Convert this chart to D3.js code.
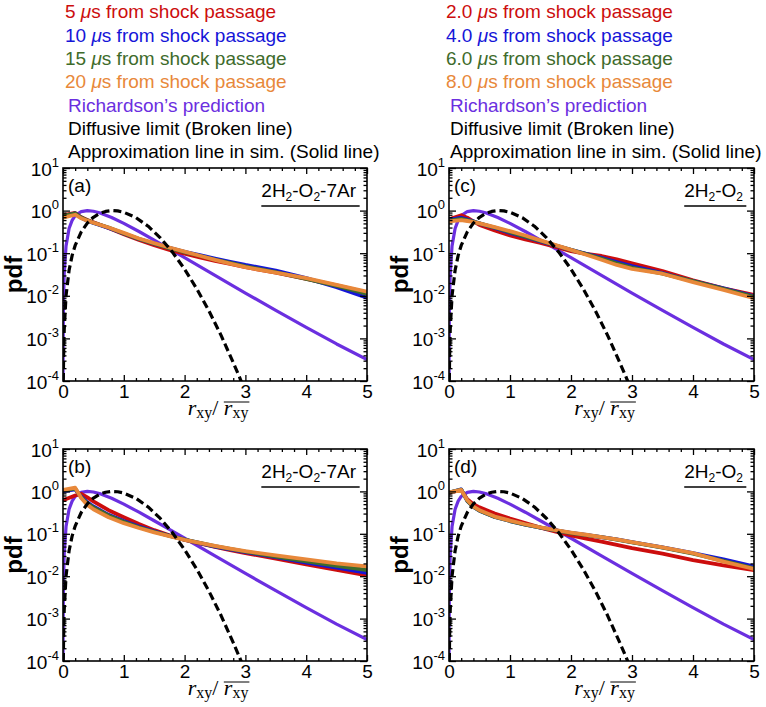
<!DOCTYPE html>
<html>
<head>
<meta charset="utf-8">
<script src="https://cdn.jsdelivr.net/npm/d3@7/dist/d3.min.js"></script>
<style>
  body { margin: 0; background: #fff; }
</style>
</head>
<body>
<svg id="fig" width="766" height="707"></svg>
<script>
// ---------------- data ----------------
// normalised separation r_xy / mean(r_xy) sampled for the simulation curves
const xGrid = [0, 0.2, 0.3, 0.4, 0.5, 0.75, 1, 1.25, 1.5, 1.75, 2, 2.25, 2.5, 2.75, 3, 3.5, 4, 4.5, 5];

// (a) 2H2-O2-7Ar : 5, 10, 15, 20 us
const aRed    = [0.78, 0.88, 0.70, 0.60, 0.53, 0.39, 0.28, 0.205, 0.155, 0.12, 0.097, 0.080, 0.066, 0.056, 0.047, 0.035, 0.025, 0.0175, 0.012];
const aBlue   = [0.72, 0.86, 0.68, 0.58, 0.51, 0.39, 0.29, 0.215, 0.168, 0.133, 0.108, 0.090, 0.075, 0.063, 0.053, 0.039, 0.026, 0.016, 0.009];
const aGreen  = [0.75, 0.86, 0.69, 0.59, 0.52, 0.40, 0.29, 0.215, 0.167, 0.132, 0.106, 0.087, 0.071, 0.059, 0.049, 0.036, 0.025, 0.017, 0.011];
const aOrange = [0.68, 0.80, 0.66, 0.58, 0.52, 0.40, 0.30, 0.222, 0.172, 0.136, 0.109, 0.087, 0.070, 0.057, 0.047, 0.035, 0.026, 0.018, 0.0125];

// (b) 2H2-O2-7Ar, second set
const bRed    = [0.62, 0.80, 0.88, 0.72, 0.58, 0.36, 0.245, 0.17, 0.122, 0.092, 0.072, 0.059, 0.049, 0.041, 0.035, 0.026, 0.019, 0.014, 0.0105];
const bBlue   = [1.00, 1.12, 0.75, 0.55, 0.44, 0.28, 0.20, 0.148, 0.114, 0.090, 0.073, 0.060, 0.050, 0.043, 0.037, 0.028, 0.021, 0.016, 0.012];
const bGreen  = [1.04, 1.16, 0.72, 0.52, 0.42, 0.27, 0.192, 0.143, 0.112, 0.089, 0.073, 0.061, 0.051, 0.044, 0.038, 0.029, 0.0225, 0.0175, 0.014];
const bOrange = [1.08, 1.22, 0.70, 0.48, 0.38, 0.245, 0.178, 0.137, 0.108, 0.088, 0.072, 0.061, 0.052, 0.045, 0.039, 0.031, 0.025, 0.020, 0.017];

// (c) 2H2-O2 : 2, 4, 6, 8 us
const cRed    = [0.63, 0.78, 0.68, 0.56, 0.46, 0.34, 0.26, 0.21, 0.175, 0.14, 0.112, 0.097, 0.086, 0.072, 0.058, 0.038, 0.023, 0.015, 0.0105];
const cBlue   = [0.60, 0.68, 0.62, 0.56, 0.50, 0.39, 0.30, 0.24, 0.19, 0.15, 0.12, 0.097, 0.078, 0.062, 0.050, 0.034, 0.022, 0.015, 0.0098];
const cGreen  = [0.58, 0.64, 0.60, 0.55, 0.50, 0.40, 0.31, 0.245, 0.195, 0.152, 0.12, 0.095, 0.075, 0.058, 0.046, 0.033, 0.022, 0.0145, 0.0095];
const cOrange = [0.56, 0.60, 0.57, 0.54, 0.50, 0.41, 0.33, 0.26, 0.20, 0.155, 0.12, 0.092, 0.070, 0.053, 0.043, 0.033, 0.021, 0.0138, 0.0088];

// (d) 2H2-O2, second set
const dRed    = [0.92, 1.08, 0.65, 0.50, 0.42, 0.30, 0.23, 0.18, 0.14, 0.112, 0.092, 0.077, 0.065, 0.055, 0.046, 0.034, 0.024, 0.018, 0.014];
const dBlue   = [0.93, 1.12, 0.60, 0.43, 0.35, 0.25, 0.20, 0.165, 0.14, 0.12, 0.105, 0.094, 0.084, 0.074, 0.064, 0.048, 0.035, 0.025, 0.017];
const dGreen  = [0.94, 1.10, 0.60, 0.43, 0.35, 0.25, 0.20, 0.165, 0.14, 0.12, 0.104, 0.093, 0.083, 0.073, 0.063, 0.047, 0.034, 0.023, 0.0155];
const dOrange = [0.95, 1.08, 0.62, 0.44, 0.36, 0.255, 0.205, 0.168, 0.142, 0.122, 0.107, 0.095, 0.084, 0.074, 0.064, 0.048, 0.035, 0.022, 0.0148];

// Richardson's prediction (same in every panel)
const richX = [0.001, 0.002, 0.005, 0.01, 0.02, 0.05, 0.1, 0.15, 0.2, 0.3, 0.4, 0.5, 0.6, 0.8, 1.0, 1.25, 1.5, 1.75, 2.0, 2.5, 3.0, 3.5, 4.0, 4.5, 5.0];
const richY = [1.2e-4, 4.6e-4, 2.7e-3, 9.7e-3, 0.033, 0.148, 0.38, 0.59, 0.76, 0.95, 1.0, 0.967, 0.888, 0.688, 0.50, 0.323, 0.203, 0.1265, 0.0785, 0.030, 0.0116, 0.00457, 0.00182, 0.00074, 0.00032];

// diffusive limit (same in every panel)
const diffX = [0.005, 0.01, 0.02, 0.05, 0.1, 0.15, 0.2, 0.3, 0.4, 0.5, 0.6, 0.7, 0.8, 0.9, 1.0, 1.2, 1.4, 1.6, 1.8, 2.0, 2.2, 2.4, 2.6, 2.8, 2.9, 3.0];
const diffY = [1.0e-4, 4.0e-4, 1.6e-3, 0.0101, 0.0398, 0.088, 0.152, 0.318, 0.51, 0.697, 0.852, 0.956, 0.999, 0.982, 0.914, 0.684, 0.430, 0.230, 0.106, 0.0422, 0.0146, 0.00444, 0.00118, 2.7e-4, 1.26e-4, 5.6e-5];

// legends and labels
const timesLeft  = ["5", "10", "15", "20"];
const timesRight = ["2.0", "4.0", "6.0", "8.0"];
const extraLegend = ["Richardson\u2019s prediction", "Diffusive limit (Broken line)", "Approximation line in sim. (Solid line)"];
const panelNames = ["(a)", "(b)", "(c)", "(d)"];
const panelMixtures = ["2H_2-O_2-7Ar", "2H_2-O_2-7Ar", "2H_2-O_2", "2H_2-O_2"];
const xTicks = [0, 1, 2, 3, 4, 5];
const yTicks = [1e-4, 1e-3, 1e-2, 1e-1, 1, 10];
const yExponents = ["-4", "-3", "-2", "-1", "0", "1"];

// ---------------- styling / layout ----------------
const SANS = '"Liberation Sans", Arial, Helvetica, sans-serif';
const SERIF = '"Liberation Serif", "Times New Roman", serif';
const seriesColors = ["#cc0d0d", "#1515d8", "#3e6b2b", "#e8883a"];
const richColor = "#6b2fe0";

const frames = [
  { x0: 63,  x1: 367, y0: 168, y1: 381 },  // (a)
  { x0: 63,  x1: 367, y0: 449, y1: 661 },  // (b)
  { x0: 449, x1: 754, y0: 168, y1: 381 },  // (c)
  { x0: 449, x1: 754, y0: 449, y1: 661 }   // (d)
];
const panelSeries = [
  [aRed, aBlue, aGreen, aOrange],
  [bRed, bBlue, bGreen, bOrange],
  [cRed, cBlue, cGreen, cOrange],
  [dRed, dBlue, dGreen, dOrange]
];

const svg = d3.select("#fig");
svg.append("rect").attr("width", 766).attr("height", 707).attr("fill", "#fff");

// ---------------- legends ----------------
function drawLegend(times, xTimes, xExtra) {
  const g = svg.append("g").attr("font-family", SANS).attr("font-size", 19);
  times.forEach((t, i) => {
    const txt = g.append("text").attr("x", xTimes).attr("y", 18.3 + 23.33 * i).attr("fill", seriesColors[i]);
    txt.append("tspan").text(t + " ");
    txt.append("tspan").attr("font-style", "italic").text("\u03bc");
    txt.append("tspan").text("s from shock passage");
  });
  extraLegend.forEach((t, j) => {
    g.append("text").attr("x", xExtra).attr("y", 18.3 + 23.33 * (4 + j))
      .attr("fill", j === 0 ? richColor : "#000").text(t);
  });
}
drawLegend(timesLeft, 65, 68);
drawLegend(timesRight, 446, 450);

// ---------------- panels ----------------
frames.forEach((f, p) => {
  const g = svg.append("g");
  const x = d3.scaleLinear().domain([0, 5]).range([f.x0, f.x1]);
  const y = d3.scaleLog().domain([1e-4, 10]).range([f.y1, f.y0]);

  const clipId = "clip" + p;
  g.append("clipPath").attr("id", clipId).append("rect")
    .attr("x", f.x0).attr("y", f.y0).attr("width", f.x1 - f.x0).attr("height", f.y1 - f.y0);

  const line = d3.line().x(d => x(d[0])).y(d => y(d[1]));
  const curves = g.append("g").attr("clip-path", `url(#${clipId})`).attr("fill", "none")
    .attr("stroke-linejoin", "round").attr("stroke-linecap", "round");

  curves.append("path").attr("d", line(d3.zip(richX, richY)))
    .attr("stroke", richColor).attr("stroke-width", 3.2);

  panelSeries[p].forEach((vals, i) => {
    curves.append("path").attr("d", line(d3.zip(xGrid, vals)))
      .attr("stroke", seriesColors[i]).attr("stroke-width", 3.8);
  });

  curves.append("path").attr("d", line(d3.zip(diffX, diffY)))
    .attr("stroke", "#000").attr("stroke-width", 3.2).attr("stroke-dasharray", "8,4")
    .attr("stroke-linecap", "butt");

  // ticks (inward, on all four sides)
  const minorX = d3.range(0, 5.001, 0.2).filter(v => Math.abs(v - Math.round(v)) > 1e-6);
  const minorY = [];
  for (let e = -4; e < 1; e++) for (let m = 2; m <= 9; m++) minorY.push(m * Math.pow(10, e));

  const tickStyle = sel => {
    sel.select(".domain").remove();
    sel.selectAll("line").attr("stroke", "#000").attr("stroke-width", 1.3);
  };
  // bottom with labels
  g.append("g").attr("transform", `translate(0,${f.y1})`)
    .call(d3.axisBottom(x).tickValues(xTicks).tickSize(-6).tickPadding(4).tickFormat(d3.format("d")))
    .call(tickStyle)
    .call(s => s.selectAll("text").attr("font-family", SANS).attr("font-size", 19).attr("fill", "#000"));
  g.append("g").attr("transform", `translate(0,${f.y1})`)
    .call(d3.axisBottom(x).tickValues(minorX).tickSize(-3).tickFormat(""))
    .call(tickStyle);
  // top
  g.append("g").attr("transform", `translate(0,${f.y0})`)
    .call(d3.axisTop(x).tickValues(xTicks).tickSize(-6).tickFormat(""))
    .call(tickStyle);
  g.append("g").attr("transform", `translate(0,${f.y0})`)
    .call(d3.axisTop(x).tickValues(minorX).tickSize(-3).tickFormat(""))
    .call(tickStyle);
  // left with labels
  g.append("g").attr("transform", `translate(${f.x0},0)`)
    .call(d3.axisLeft(y).tickValues(yTicks).tickSize(-7).tickPadding(4).tickFormat(""))
    .call(tickStyle)
    .call(s => s.selectAll(".tick").each(function (d) {
      const t = d3.select(this).append("text")
        .attr("x", -4).attr("y", 7).attr("text-anchor", "end")
        .attr("font-family", SANS).attr("font-size", 19).attr("fill", "#000");
      t.append("tspan").text("10");
      t.append("tspan").attr("font-size", 13).attr("dy", -9).text(yExponents[yTicks.indexOf(d)]);
    }));
  g.append("g").attr("transform", `translate(${f.x0},0)`)
    .call(d3.axisLeft(y).tickValues(minorY).tickSize(-3.5).tickFormat(""))
    .call(tickStyle);
  // right
  g.append("g").attr("transform", `translate(${f.x1},0)`)
    .call(d3.axisRight(y).tickValues(yTicks).tickSize(-7).tickFormat(""))
    .call(tickStyle);
  g.append("g").attr("transform", `translate(${f.x1},0)`)
    .call(d3.axisRight(y).tickValues(minorY).tickSize(-3.5).tickFormat(""))
    .call(tickStyle);

  // frame
  g.append("rect").attr("x", f.x0).attr("y", f.y0).attr("width", f.x1 - f.x0).attr("height", f.y1 - f.y0)
    .attr("fill", "none").attr("stroke", "#000").attr("stroke-width", 1.6);

  // panel letter
  g.append("text").attr("x", f.x0 + 5).attr("y", f.y0 + 24)
    .attr("font-family", SANS).attr("font-size", 19).text(panelNames[p]);

  // mixture label, underlined
  const mt = g.append("text").attr("y", f.y0 + 29).attr("text-anchor", "end").attr("x", f.x1 - 11)
    .attr("font-family", SANS).attr("font-size", 19);
  panelMixtures[p].split(/(_\d)/).filter(s => s.length).forEach(s => {
    if (s[0] === "_") {
      mt.append("tspan").attr("font-size", 12).attr("dy", 4).text(s.slice(1));
    } else {
      const prevSub = mt.selectAll("tspan").size() > 0;
      mt.append("tspan").attr("dy", prevSub ? -4 : 0).text(s);
    }
  });
  const bb = mt.node().getBBox();
  g.append("line").attr("x1", bb.x).attr("x2", bb.x + bb.width + 3)
    .attr("y1", f.y0 + 38).attr("y2", f.y0 + 38).attr("stroke", "#000").attr("stroke-width", 1.5);

  // y axis title
  g.append("text")
    .attr("transform", `translate(${f.x0 - 41},${(f.y0 + f.y1) / 2}) rotate(-90)`)
    .attr("text-anchor", "middle").attr("font-family", SANS).attr("font-weight", "bold")
    .attr("font-size", 24).text("pdf");

  // x axis title: r_xy / overline(r_xy)
  const xt = g.append("text").attr("y", f.y1 + 34).attr("font-family", SERIF).attr("font-size", 22);
  xt.append("tspan").attr("font-style", "italic").text("r");
  xt.append("tspan").attr("font-size", 16).attr("dy", 3).text("xy");
  xt.append("tspan").attr("dy", -3).text("/ ");
  xt.append("tspan").attr("font-style", "italic").text("r");
  xt.append("tspan").attr("font-size", 16).attr("dy", 3).text("xy");
  const len = xt.node().getComputedTextLength();
  const cx = (f.x0 + f.x1) / 2 + 3;
  xt.attr("x", cx - len / 2);
  const node = xt.node();
  const ox0 = node.getStartPositionOfChar(5).x;
  const ox1 = node.getEndPositionOfChar(7).x;
  g.append("line").attr("x1", ox0).attr("x2", ox1 + 1)
    .attr("y1", f.y1 + 21).attr("y2", f.y1 + 21).attr("stroke", "#000").attr("stroke-width", 1);
});
</script>
</body>
</html>
